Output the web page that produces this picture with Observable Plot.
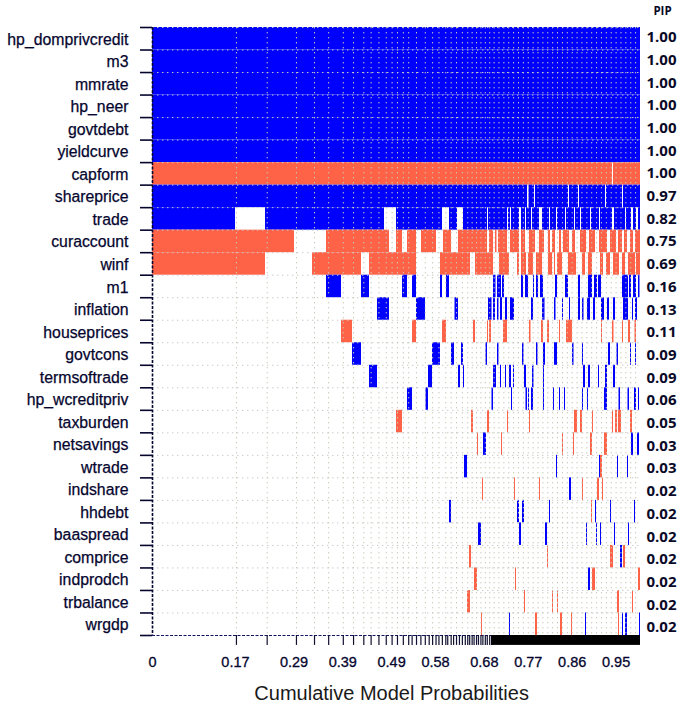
<!DOCTYPE html>
<html>
<head>
<meta charset="utf-8">
<script src="https://cdn.jsdelivr.net/npm/d3@7"></script>
<script src="https://cdn.jsdelivr.net/npm/@observablehq/plot@0.6"></script>
<style>
html,body{margin:0;padding:0;background:#fff}
svg{display:block;overflow:visible}
</style>
</head>
<body>
<div id="chart"></div>
<script>
const variables = ["hp_domprivcredit","m3","mmrate","hp_neer","govtdebt","yieldcurve","capform","shareprice","trade","curaccount","winf","m1","inflation","houseprices","govtcons","termsoftrade","hp_wcreditpriv","taxburden","netsavings","wtrade","indshare","hhdebt","baaspread","comprice","indprodch","trbalance","wrgdp"];
const pip = ["1.00","1.00","1.00","1.00","1.00","1.00","1.00","0.97","0.82","0.75","0.69","0.16","0.13","0.11","0.09","0.09","0.06","0.05","0.03","0.03","0.02","0.02","0.02","0.02","0.02","0.02","0.02"];
const xTickValues = [0,0.17,0.29,0.39,0.49,0.58,0.68,0.77,0.86,0.95];
const xTickLabels = ["0","0.17","0.29","0.39","0.49","0.58","0.68","0.77","0.86","0.95"];
const all = [[0,.976]];

// Blue (positive) inclusion spans, per variable
const blue = {};
const red = {};
blue.hp_domprivcredit = all; blue.m3 = all; blue.mmrate = all; blue.hp_neer = all; blue.govtdebt = all; blue.yieldcurve = all;
red.capform = [[0,.920],[.922,.976]];
blue.shareprice = [[0,.750],[.753,.764],[.766,.832],[.834,.852],[.854,.906],[.908,.940],[.942,.976]];
blue.trade = [[0,.166],[.226,.464],[.488,.580],[.594,.610],[.622,.670],[.672,.710],[.712,.716],[.718,.734],[.738,.746],[.748,.758],[.760,.774],[.780,.794],[.796,.808],[.810,.826],[.828,.844],[.846,.856],[.858,.876],[.878,.894],[.896,.920],[.924,.946],[.948,.958],[.962,.968],[.972,.976]];
red.curaccount = [[0,.284],[.348,.474],[.488,.500],[.510,.528],[.538,.568],[.582,.598],[.612,.670],[.674,.682],[.686,.689],[.692,.710],[.716,.734],[.738,.746],[.754,.766],[.774,.784],[.792,.796],[.800,.806],[.814,.818],[.822,.834],[.840,.846],[.856,.868],[.874,.886],[.894,.910],[.916,.928],[.932,.940],[.944,.950],[.956,.962],[.966,.976]];
red.winf = [[0,.226],[.320,.418],[.434,.528],[.576,.636],[.646,.682],[.694,.714],[.730,.734],[.738,.748],[.752,.762],[.768,.780],[.792,.800],[.804,.806],[.810,.820],[.832,.848],[.860,.866],[.872,.880],[.896,.902],[.908,.916],[.922,.934],[.940,.946],[.952,.966],[.968,.976]];
blue.m1 = [[.348,.378],[.418,.434],[.500,.510],[.520,.528],[.576,.580],[.588,.594],[.682,.687],[.690,.698],[.700,.704],[.738,.742],[.746,.752],[.762,.764],[.768,.772],[.776,.782],[.806,.810],[.826,.832],[.852,.856],[.872,.880],[.884,.890],[.892,.898],[.940,.952],[.954,.958],[.962,.968],[.972,.975]];
blue.inflation = [[.450,.474],[.528,.546],[.605,.612],[.672,.679],[.682,.686],[.690,.693],[.696,.700],[.706,.710],[.716,.724],[.758,.762],[.780,.785],[.804,.807],[.820,.822],[.834,.836],[.852,.856],[.860,.863],[.870,.876],[.882,.886],[.898,.904],[.910,.914],[.922,.926],[.942,.952],[.960,.962],[.966,.970]];
red.houseprices = [[.378,.400],[.520,.528],[.580,.588],[.642,.646],[.670,.672],[.674,.678],[.702,.710],[.754,.757],[.778,.782],[.790,.794],[.814,.816],[.828,.840],[.898,.900],[.920,.923],[.940,.942],[.952,.956],[.965,.968]];
blue.govtcons = [[.400,.418],[.560,.576],[.598,.604],[.618,.622],[.667,.670],[.690,.693],[.740,.743],[.768,.771],[.782,.786],[.804,.810],[.840,.843],[.860,.862],[.912,.916],[.929,.932],[.956,.958],[.966,.968]];
blue.termsoftrade = [[.434,.450],[.552,.560],[.612,.616],[.622,.624],[.682,.688],[.696,.698],[.706,.708],[.714,.718],[.722,.724],[.744,.748],[.760,.763],[.782,.784],[.862,.866],[.872,.876],[.892,.894],[.906,.910],[.922,.926]];
blue.hp_wcreditpriv = [[.510,.520],[.547,.552],[.679,.682],[.718,.720],[.747,.750],[.752,.754],[.758,.762],[.782,.784],[.802,.804],[.814,.816],[.824,.826],[.860,.862],[.870,.872],[.904,.910],[.933,.936],[.951,.954],[.964,.968],[.972,.974]];
red.taxburden = [[.488,.500],[.638,.642],[.670,.674],[.710,.712],[.754,.756],[.844,.850],[.856,.860],[.880,.882],[.920,.922],[.926,.930],[.932,.938],[.956,.960]];
red.netsavings = [[.650,.652],[.698,.700],[.820,.822],[.842,.844],[.876,.880],[.904,.910]];
blue.netsavings = [[.662,.668],[.958,.962],[.970,.974]];
blue.wtrade = [[.624,.630],[.808,.810],[.894,.896],[.930,.932],[.950,.952]];
red.wtrade = [[.896,.900]];
red.indshare = [[.660,.662],[.724,.726],[.774,.776],[.860,.862],[.890,.894],[.900,.902]];
blue.indshare = [[.834,.838]];
blue.hhdebt = [[.594,.598],[.730,.734],[.740,.744],[.794,.796],[.886,.888],[.916,.918],[.964,.966]];
red.hhdebt = [[.878,.880]];
blue.baaspread = [[.652,.658],[.734,.738],[.786,.790],[.868,.870],[.888,.890],[.896,.898],[.924,.926],[.952,.954]];
red.comprice = [[.634,.638],[.790,.792],[.916,.922],[.942,.946]];
blue.comprice = [[.936,.940]];
red.indprodch = [[.644,.650],[.726,.728],[.880,.886],[.972,.976]];
blue.indprodch = [[.872,.876]];
red.trbalance = [[.630,.636],[.744,.746],[.800,.802],[.810,.812],[.930,.934],[.960,.962]];
red.wrgdp = [[.658,.660],[.766,.770],[.816,.820],[.838,.840],[.932,.934]];
blue.wrgdp = [[.714,.716],[.866,.868],[.940,.942],[.946,.950],[.974,.976]];
// The spans above run to .976 of the way along; they end at cumulative probability 1.
const spanEnd = 0.976;

// Model boundaries, rug below the plot
const modelEdges = [.172,.235,.295,.332,.361,.391,.412,.433,.448,.464,.479,.491,.502,.514,.525,.532,.541,.550,.559,.567,.574,.581,.587,.594,.601,.605,.612,.617,.623,.629,.635,.641,.646,.650,.655,.659,.664,.668,.673,.677,.682,.686,.691,.695];
const denseModelsFrom = 0.695;
const gridDense = [.70,.71,.72,.73,.74,.75,.76,.77,.78,.79,.80,.81,.82,.83,.84,.85,.86,.87,.88,.89,.90,.91,.92,.93,.94,.95,.96,.97,.98,.99];

const spans = [];
variables.forEach((name, i) => {
  (blue[name] || []).forEach(s => spans.push({name, row: i, a: s[0] / spanEnd, b: s[1] / spanEnd, c: "#0000ff"}));
  (red[name] || []).forEach(s => spans.push({name, row: i, a: s[0] / spanEnd, b: s[1] / spanEnd, c: "#ff6347"}));
});
const rows = variables.map((v, i) => i);
const rowEdges = d3.range(0, 28);
const gridX = modelEdges.filter((d, i) => d < .53 || i % 2 === 0).concat(gridDense);
const ink = "#05052e";
const dots = "1.4 3.6";

const chart = Plot.plot({
  width: 684,
  height: 710,
  marginTop: 27,
  marginBottom: 75,
  marginLeft: 152,
  marginRight: 44,
  style: {background: "#fff", fontFamily: "'Liberation Sans', sans-serif"},
  x: {type: "linear", domain: [0, 1], axis: null},
  y: {type: "linear", domain: [0, 27], range: [27, 635], axis: null},
  marks: [
    Plot.rect(spans, {x1: "a", x2: "b", y1: "row", y2: d => d.row + 1, fill: "c"}),
    Plot.ruleX(gridX, {y1: 0, y2: 27, stroke: "#c9c9b8", strokeWidth: 1, strokeDasharray: dots}),
    Plot.ruleY(rowEdges.slice(0, 27), {x1: 0, x2: 1, stroke: "#c9c9c9", strokeWidth: 1, strokeDasharray: dots}),
    Plot.ruleX([0], {y1: 0, y2: 27, stroke: ink, strokeWidth: 1.6, strokeDasharray: "3 1.5"}),
    Plot.ruleY([27], {x1: 0, x2: denseModelsFrom, stroke: "#141466", strokeWidth: 1.2, strokeDasharray: "3 1.5"}),
    Plot.ruleY(rowEdges, {x1: -0.0246, x2: 0, stroke: ink, strokeWidth: 1.6}),
    Plot.ruleX(modelEdges, {y1: 27, y2: 27.44, stroke: "#101030", strokeWidth: 1.2}),
    Plot.rect([denseModelsFrom], {x1: d => d, x2: 1, y1: 27, y2: 27.44, fill: "#000"}),
    Plot.text(rows, {x: 0, y: d => d + 0.5, dx: -24, dy: 1, text: d => variables[d], textAnchor: "end", fontSize: 15.8, fill: ink, stroke: ink, strokeWidth: 0.25}),
    Plot.text(rows, {x: 1, y: d => d + 0.5 + (d - 8) * 0.008, dx: 6, text: d => pip[d], textAnchor: "start", fontSize: 15, fontWeight: 700, fontFamily: "'Open Sans', sans-serif", fill: "#0a0a28"}),
    Plot.text(["PIP"], {x: 1, y: 0, dx: 22, dy: -16, textAnchor: "middle", fontSize: 11.5, fontWeight: 700, fontFamily: "'Open Sans', sans-serif", fill: "#0a0a28"}),
    Plot.text(xTickValues, {x: d => d, y: 27, dy: 27, text: (d, i) => xTickLabels[i], textAnchor: "middle", fontSize: 14.5, fill: ink, stroke: ink, strokeWidth: 0.3}),
    Plot.text(["Cumulative Model Probabilities"], {x: 0.49, y: 27, dy: 58, textAnchor: "middle", fontSize: 20, fill: "#1a1a1a"})
  ]
});
document.getElementById("chart").append(chart);
</script>
</body>
</html>
